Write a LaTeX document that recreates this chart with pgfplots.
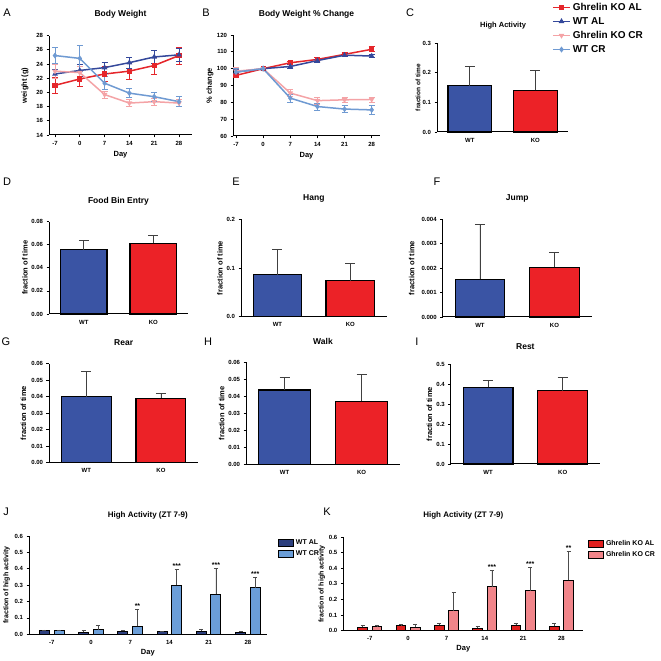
\documentclass[border=0pt]{standalone}
\usepackage{fontspec}
\setmainfont{Liberation Sans}
\usepackage{pgfplots}
\pgfplotsset{compat=1.18}
\definecolor{koal}{HTML}{E5262B}
\definecolor{wtal}{HTML}{34489B}
\definecolor{kocr}{HTML}{F4A3A6}
\definecolor{wtcr}{HTML}{6F9AD2}
\definecolor{wtbar}{HTML}{3A54A4}
\definecolor{kobar}{HTML}{EC2227}
\definecolor{jal}{HTML}{2C3F7E}
\definecolor{jcr}{HTML}{6B9ED8}
\definecolor{kal}{HTML}{E0201F}
\definecolor{kcr}{HTML}{F1858A}
\newcommand{\fs}[1]{\fontsize{#1}{#1}\selectfont}
\pgfplotsset{
  gp/.style={scale only axis, anchor=south west, axis lines*=left, enlargelimits=false,
    axis line style={line width=1pt, black}, tick align=outside,
    major tick length=2.5pt, tick style={line width=0.8pt, black},
    scaled y ticks=false, scaled x ticks=false,
    /pgf/number format/assume math mode=true,
    tick label style={font=\bfseries\fs{6}},
    label style={font=\bfseries\fs{7.5}},
    title style={font=\bfseries\fs{8.5}, anchor=center},
    clip=false},
  barax/.style={gp, xmin=-0.5, xmax=1.5, xtick={0,1}, xticklabels={WT,KO},
    x tick style={draw=none}, ymin=0, ylabel={fraction of time}},
  bar/.style={ybar, bar width=0.667, bar shift=0pt, draw=black, line width=1.2pt, fill=#1,
    error bars/y dir=plus, error bars/y explicit,
    error bars/error bar style={line width=0.8pt, black!75},
    error bars/error mark options={rotate=90, line width=0.8pt, black!75, mark size=5pt}},
  gbar/.style={ybar, bar width=0.255, bar shift=0pt, draw=black, line width=1pt, fill=#1,
    error bars/y dir=plus, error bars/y explicit,
    error bars/error bar style={line width=0.7pt, black!70},
    error bars/error mark options={rotate=90, line width=0.7pt, black!70, mark size=2pt}},
  ln/.style={color=#1, line width=1.5pt, mark size=1.8pt,
    error bars/y dir=both, error bars/y explicit,
    error bars/error bar style={line width=0.8pt, #1},
    error bars/error mark options={rotate=90, line width=0.8pt, #1, mark size=3pt}},
  fmt/.style={y tick label style={/pgf/number format/fixed, /pgf/number format/fixed zerofill, /pgf/number format/precision=#1}},
  boxleg/.style={legend image code/.code={\draw[##1, draw=black, line width=0.8pt] (0pt,-3.5pt) rectangle (15pt,3.5pt);},
    legend cell align=left,
    legend style={draw=none, fill=none, font=\bfseries\fs{7}, inner sep=0pt, row sep=0.5pt, anchor=north west}},
}
\begin{document}
\begin{tikzpicture}
\useasboundingbox (0,0) rectangle (661pt,661pt);
% ---------------- A
\begin{axis}[gp, at={(49pt,526pt)}, width=143pt, height=99.3pt,
  xmin=-8.69, xmax=31.67, ymin=14, ymax=28, xtick={-7,0,7,14,21,28}, ytick={14,16,...,28},
  title={Body Weight}, title style={at={(axis description cs:0.5,1.158)}},
  ylabel={weight (g)}, ylabel style={at={(axis description cs:-0.168,0.5)}, anchor=center},
  xlabel={Day}, xlabel style={at={(axis description cs:0.5,-0.2)}, anchor=center}]
\addplot[ln=koal, mark=square*] coordinates {(-7,21.0) +- (0,1.1) (0,21.9) +- (0,1.1) (7,22.6) +- (0,1.0) (14,23.0) +- (0,1.1) (21,23.8) +- (0,1.2) (28,25.2) +- (0,1.2)};
\addplot[ln=wtal, mark=triangle*] coordinates {(-7,22.6) +- (0,0.6) (0,23.1) +- (0,0.8) (7,23.5) +- (0,0.8) (14,24.2) +- (0,0.8) (21,25.0) +- (0,0.9) (28,25.3) +- (0,0.9)};
\addplot[ln=kocr, mark=triangle*, mark options={rotate=180}] coordinates {(-7,23.0) +- (0,1.0) (0,22.8) +- (0,0.9) (7,19.7) +- (0,0.5) (14,18.5) +- (0,0.5) (21,18.7) +- (0,0.5) (28,18.5) +- (0,0.5)};
\addplot[ln=wtcr, mark=diamond*] coordinates {(-7,25.2) +- (0,1.1) (0,24.8) +- (0,1.8) (7,21.3) +- (0,0.9) (14,19.9) +- (0,0.6) (21,19.4) +- (0,0.6) (28,18.7) +- (0,0.7)};
\end{axis}
% ---------------- B
\begin{axis}[gp, at={(233pt,525pt)}, width=147pt, height=101pt,
  xmin=-7.77, xmax=30.14, ymin=60, ymax=120, xtick={-7,0,7,14,21,28}, ytick={60,70,...,120},
  title={Body Weight \% Change}, title style={at={(axis description cs:0.5,1.149)}},
  ylabel={\% change}, ylabel style={at={(axis description cs:-0.156,0.5)}, anchor=center},
  xlabel={Day}, xlabel style={at={(axis description cs:0.5,-0.2)}, anchor=center}]
\addplot[ln=koal, mark=square*] coordinates {(-7,96) +- (0,1) (0,100) +- (0,0.3) (7,103.5) +- (0,1) (14,105.5) +- (0,1) (21,108.5) +- (0,1) (28,111.5) +- (0,1.5)};
\addplot[ln=wtal, mark=triangle*] coordinates {(-7,98) +- (0,1.5) (0,100) +- (0,0.3) (7,101.3) +- (0,1) (14,104.8) +- (0,1) (21,108) +- (0,1) (28,107.5) +- (0,1)};
\addplot[ln=kocr, mark=triangle*, mark options={rotate=180}] coordinates {(-7,98.5) +- (0,2) (0,100) +- (0,0.3) (7,85.5) +- (0,2) (14,81) +- (0,2) (21,81.5) +- (0,1.5) (28,81.7) +- (0,1.5)};
\addplot[ln=wtcr, mark=diamond*] coordinates {(-7,98) +- (0,2) (0,100) +- (0,0.3) (7,82.5) +- (0,2.5) (14,77.5) +- (0,2) (21,76) +- (0,2) (28,75.5) +- (0,2.5)};
\end{axis}
% ---------------- C (with top legend)
\begin{axis}[barax, fmt=1, at={(437pt,529pt)}, width=131pt, height=88.7pt,
  ymax=0.3, ytick={0,0.1,0.2,0.3},
  title={High Activity}, title style={font=\bfseries\fs{7.5}, at={(axis description cs:0.504,1.127)}},
  ylabel style={font=\bfseries\fs{6.5}, at={(axis description cs:-0.145,0.5)}, anchor=center},
  legend cell align=left,
  legend style={at={(axis description cs:0.878,1.48)}, anchor=north west, draw=none, fill=none,
    font=\bfseries\fs{10}, inner sep=0pt, row sep=1.5pt}]
\addplot[bar=wtbar, forget plot] coordinates {(0,0.156) +- (0,0.066)};
\addplot[bar=kobar, forget plot] coordinates {(1,0.141) +- (0,0.068)};
\addlegendimage{koal, line width=1.5pt, mark=square*, mark size=1.8pt}
\addlegendimage{wtal, line width=1.5pt, mark=triangle*, mark size=1.8pt}
\addlegendimage{kocr, line width=1.5pt, mark=triangle*, mark size=1.8pt, mark options={rotate=180}}
\addlegendimage{wtcr, line width=1.5pt, mark=diamond*, mark size=1.8pt}
\legend{Ghrelin KO AL, WT AL, Ghrelin KO CR, WT CR}
\end{axis}
% ---------------- D
\begin{axis}[barax, fmt=2, at={(49pt,347pt)}, width=139pt, height=92.3pt,
  ymax=0.08, ytick={0,0.02,0.04,0.06,0.08},
  title={Food Bin Entry}, title style={at={(axis description cs:0.5,1.159)}},
  ylabel style={at={(axis description cs:-0.173,0.5)}, anchor=center}]
\addplot[bar=wtbar] coordinates {(0,0.0557) +- (0,0.0078)};
\addplot[bar=kobar] coordinates {(1,0.0613) +- (0,0.0066)};
\end{axis}
% ---------------- E
\begin{axis}[barax, fmt=1, at={(241pt,344.3pt)}, width=145.7pt, height=97.4pt,
  ymax=0.2, ytick={0,0.1,0.2},
  title={Hang}, title style={at={(axis description cs:0.5,1.147)}},
  ylabel style={at={(axis description cs:-0.144,0.5)}, anchor=center}]
\addplot[bar=wtbar] coordinates {(0,0.0862) +- (0,0.051)};
\addplot[bar=kobar] coordinates {(1,0.0739) +- (0,0.0357)};
\end{axis}
% ---------------- F
\begin{axis}[barax, fmt=3, at={(442.7pt,344pt)}, width=149pt, height=98pt,
  ymax=0.004, ytick={0,0.001,0.002,0.003,0.004},
  title={Jump}, title style={at={(axis description cs:0.5,1.153)}},
  ylabel style={at={(axis description cs:-0.208,0.5)}, anchor=center}]
\addplot[bar=wtbar] coordinates {(0,0.00154) +- (0,0.00222)};
\addplot[bar=kobar] coordinates {(1,0.00203) +- (0,0.00061)};
\end{axis}
% ---------------- G
\begin{axis}[barax, fmt=2, at={(49pt,198.3pt)}, width=149.3pt, height=99pt,
  ymax=0.06, ytick={0,0.01,0.02,0.03,0.04,0.05,0.06},
  title={Rear}, title style={at={(axis description cs:0.5,1.148)}},
  ylabel style={at={(axis description cs:-0.172,0.5)}, anchor=center}]
\addplot[bar=wtbar] coordinates {(0,0.0401) +- (0,0.0152)};
\addplot[bar=kobar] coordinates {(1,0.0391) +- (0,0.0031)};
\end{axis}
% ---------------- H
\begin{axis}[barax, fmt=2, at={(246pt,196.7pt)}, width=154pt, height=102pt,
  ymax=0.06, ytick={0,0.01,0.02,0.03,0.04,0.05,0.06},
  title={Walk}, title style={at={(axis description cs:0.5,1.144)}},
  ylabel style={at={(axis description cs:-0.158,0.5)}, anchor=center}]
\addplot[bar=wtbar] coordinates {(0,0.0437) +- (0,0.0072)};
\addplot[bar=kobar] coordinates {(1,0.0371) +- (0,0.016)};
\end{axis}
% ---------------- I
\begin{axis}[barax, fmt=1, at={(450.7pt,197pt)}, width=149.3pt, height=99.6pt,
  ymax=0.5, ytick={0,0.1,0.2,0.3,0.4,0.5},
  title={Rest}, title style={at={(axis description cs:0.5,1.117)}},
  ylabel style={at={(axis description cs:-0.143,0.5)}, anchor=center}]
\addplot[bar=wtbar] coordinates {(0,0.385) +- (0,0.033)};
\addplot[bar=kobar] coordinates {(1,0.368) +- (0,0.067)};
\end{axis}
% ---------------- J
\begin{axis}[gp, fmt=1, boxleg, at={(29pt,26.7pt)}, width=237.7pt, height=98.3pt,
  xmin=-0.58, xmax=5.48, ymin=0, ymax=0.6, ytick={0,0.1,...,0.6},
  xtick={0,...,5}, xticklabels={-7,0,7,14,21,28}, x tick style={draw=none},
  title={High Activity (ZT 7-9)}, title style={font=\bfseries\fs{8}, at={(axis description cs:0.5,1.152)}},
  ylabel={fraction of high activity}, ylabel style={font=\bfseries\fs{7}, at={(axis description cs:-0.094,0.5)}, anchor=center},
  xlabel={Day}, xlabel style={at={(axis description cs:0.5,-0.187)}, anchor=center},
  legend style={at={(axis description cs:1.0475,0.985)}}]
\addplot[gbar=jal] coordinates {(-0.186,0.022) +- (0,0.005) (0.814,0.012) +- (0,0.01) (1.814,0.02) +- (0,0.005) (2.814,0.015) +- (0,0.005) (3.814,0.02) +- (0,0.013) (4.814,0.013) +- (0,0.007)};
\addplot[gbar=jcr] coordinates {(0.186,0.022) +- (0,0.005) (1.186,0.028) +- (0,0.027) (2.186,0.048) +- (0,0.107) (3.186,0.30) +- (0,0.095) (4.186,0.243) +- (0,0.16) (5.186,0.285) +- (0,0.065)};
\legend{WT AL, WT CR}
\node[font=\bfseries\fs{7}, anchor=south, inner sep=0pt] at (axis cs:2.186,0.158) {**};
\node[font=\bfseries\fs{7}, anchor=south, inner sep=0pt] at (axis cs:3.186,0.398) {***};
\node[font=\bfseries\fs{7}, anchor=south, inner sep=0pt] at (axis cs:4.186,0.406) {***};
\node[font=\bfseries\fs{7}, anchor=south, inner sep=0pt] at (axis cs:5.186,0.353) {***};
\end{axis}
% ---------------- K
\begin{axis}[gp, fmt=1, boxleg, at={(343.3pt,30.3pt)}, width=240pt, height=93.7pt,
  xmin=-0.69, xmax=5.57, ymin=0, ymax=0.6, ytick={0,0.1,...,0.6},
  xtick={0,...,5}, xticklabels={-7,0,7,14,21,28}, x tick style={draw=none},
  title={High Activity (ZT 7-9)}, title style={font=\bfseries\fs{8}, at={(axis description cs:0.5,1.17)}},
  ylabel={fraction of high activity}, ylabel style={font=\bfseries\fs{7}, at={(axis description cs:-0.089,0.5)}, anchor=center},
  xlabel={Day}, xlabel style={at={(axis description cs:0.5,-0.188)}, anchor=center},
  legend style={at={(axis description cs:1.0196,0.985)}}]
\addplot[gbar=kal] coordinates {(-0.186,0.021) +- (0,0.011) (0.814,0.036) +- (0,0.002) (1.814,0.036) +- (0,0.009) (2.814,0.017) +- (0,0.013) (3.814,0.034) +- (0,0.011) (4.814,0.028) +- (0,0.019)};
\addplot[gbar=kcr] coordinates {(0.186,0.026) +- (0,0.008) (1.186,0.021) +- (0,0.022) (2.186,0.128) +- (0,0.116) (3.186,0.28) +- (0,0.105) (4.186,0.256) +- (0,0.152) (5.186,0.323) +- (0,0.186)};
\legend{Ghrelin KO AL, Ghrelin KO CR}
\node[font=\bfseries\fs{7}, anchor=south, inner sep=0pt] at (axis cs:3.186,0.388) {***};
\node[font=\bfseries\fs{7}, anchor=south, inner sep=0pt] at (axis cs:4.186,0.411) {***};
\node[font=\bfseries\fs{7}, anchor=south, inner sep=0pt] at (axis cs:5.186,0.512) {**};
\end{axis}
% ---------------- panel letters
\begin{scope}[every node/.style={font=\fs{11}, anchor=center, inner sep=0pt}]
\node at (7pt,648pt) {A};
\node at (206pt,648pt) {B};
\node at (410pt,648pt) {C};
\node at (7pt,479pt) {D};
\node at (236pt,479pt) {E};
\node at (437pt,479pt) {F};
\node at (6pt,319pt) {G};
\node at (208pt,319pt) {H};
\node at (417pt,319pt) {I};
\node at (6pt,149pt) {J};
\node at (327pt,149pt) {K};
\end{scope}
\end{tikzpicture}
\end{document}
